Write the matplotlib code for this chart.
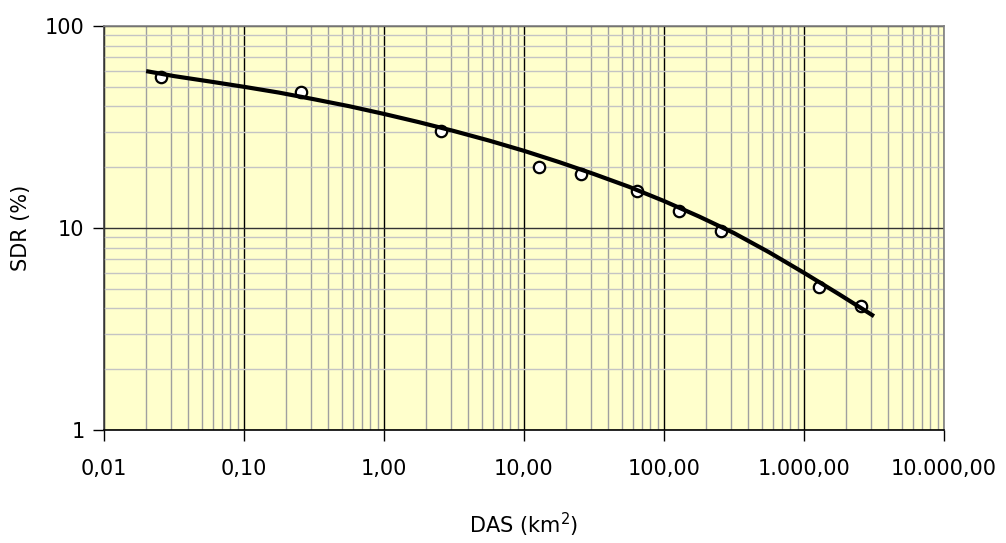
import matplotlib
matplotlib.use("Agg")
import matplotlib.pyplot as plt
from matplotlib.ticker import FixedLocator, LogLocator, NullFormatter

# Observed stations: drainage area (km²) and sediment delivery ratio (%)
das_obs = [0.0255, 0.255, 2.55, 12.8, 25.5, 64.0, 128.0, 254.0, 1280.0, 2550.0]
sdr_obs = [56.0, 47.0, 30.3, 20.1, 18.5, 15.3, 12.2, 9.7, 5.1, 4.1]

# Fitted SDR relation sampled along the drainage-area range
das_fit = [0.02, 0.0316, 0.0562, 0.1, 0.178, 0.316, 0.562, 1.0, 1.78, 3.16,
           5.62, 10.0, 17.8, 31.6, 56.2, 100.0, 178.0, 316.0, 562.0, 1000.0,
           1780.0, 3160.0]
sdr_fit = [59.8, 56.5, 53.2, 50.0, 46.8, 43.4, 40.1, 36.7, 33.4, 30.2,
           27.1, 24.1, 21.2, 18.5, 16.0, 13.6, 11.4, 9.44, 7.59, 6.00,
           4.70, 3.66]

x_ticks = [0.01, 0.1, 1, 10, 100, 1000, 10000]
x_tick_labels = ["0,01", "0,10", "1,00", "10,00", "100,00", "1.000,00", "10.000,00"]
y_ticks = [1, 10, 100]
y_tick_labels = ["1", "10", "100"]

plt.rcParams["font.family"] = ["DejaVu Sans"]

fig = plt.figure(figsize=(10.06, 5.43), dpi=100)
ax = fig.add_axes([104 / 1006, 1 - 430 / 543, 840 / 1006, 404 / 543])
ax.set_facecolor("#FFFFCC")

ax.set_xscale("log")
ax.set_yscale("log")
ax.set_xlim(0.01, 10000)
ax.set_ylim(1, 100)

# grid: dark decade lines, grey sub-decade lines
ax.xaxis.set_minor_locator(LogLocator(base=10, subs=range(2, 10), numticks=20))
ax.yaxis.set_minor_locator(LogLocator(base=10, subs=range(2, 10), numticks=20))
ax.xaxis.set_minor_formatter(NullFormatter())
ax.yaxis.set_minor_formatter(NullFormatter())
ax.grid(which="minor", axis="x", color="#A0A0A0", linewidth=1.0)
ax.grid(which="minor", axis="y", color="#C4C4C4", linewidth=1.0)
ax.grid(which="major", axis="x", color="#000000", linewidth=1.0)
ax.grid(which="major", axis="y", color="#333333", linewidth=1.0)
ax.set_axisbelow(True)

ax.xaxis.set_major_locator(FixedLocator(x_ticks))
ax.set_xticklabels(x_tick_labels)
ax.yaxis.set_major_locator(FixedLocator(y_ticks))
ax.set_yticklabels(y_tick_labels)
ax.tick_params(which="minor", length=0)
ax.tick_params(axis="x", which="major", direction="out", length=8, width=1,
               pad=13, labelsize=15, color="black")
ax.tick_params(axis="y", which="major", direction="out", length=8, width=1,
               pad=6, labelsize=15, color="black")

for side in ("top", "right"):
    ax.spines[side].set_color("#808080")
    ax.spines[side].set_linewidth(1.2)
ax.spines["left"].set_color("#404040")
ax.spines["bottom"].set_color("#000000")
ax.spines["left"].set_linewidth(1.2)
ax.spines["bottom"].set_linewidth(1.2)

ax.plot(das_obs, sdr_obs, linestyle="none", marker="o", markersize=8.2,
        markerfacecolor="white", markeredgecolor="black", markeredgewidth=1.6,
        zorder=3)
ax.plot(das_fit, sdr_fit, color="black", linewidth=3.0,
        solid_capstyle="butt", solid_joinstyle="round", zorder=4)

ax.set_xlabel("DAS (km$^2$)", fontsize=15, labelpad=23)
ax.set_ylabel("SDR (%)", fontsize=15, labelpad=10)

fig.savefig("out.png", dpi=100, facecolor="white")
